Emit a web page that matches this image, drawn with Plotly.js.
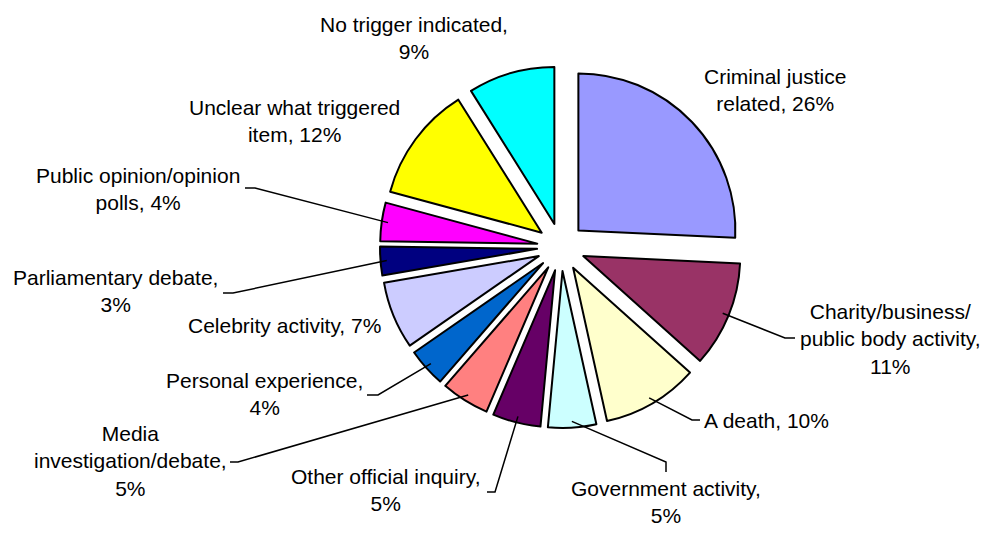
<!DOCTYPE html>
<html><head><meta charset="utf-8">
<script src="https://cdn.plot.ly/plotly-3.0.1.min.js"></script>
<style>html,body{margin:0;padding:0;background:#fff}</style>
</head><body><div id="chart" style="width:984px;height:533px"></div>
<script>
// ---- data (clockwise from 12 o'clock) ----
const categories = [
  "Criminal justice\nrelated",
  "Charity/business/\npublic body activity",
  "A death",
  "Government activity",
  "Other official inquiry",
  "Media\ninvestigation/debate",
  "Personal experience",
  "Celebrity activity",
  "Parliamentary debate",
  "Public opinion/opinion\npolls",
  "Unclear what triggered\nitem",
  "No trigger indicated"
];
const percentValues = [26, 11, 10, 5, 5, 5, 4, 7, 3, 4, 12, 9];
const sliceColors = ["#9999FF","#993366","#FFFFCC","#CCFFFF","#660066","#FF8080","#0066CC","#CCCCFF","#000080","#FF00FF","#FFFF00","#00FFFF"];
// whether the percentage goes on its own line
const valueOnNewLine = [false, true, false, true, true, true, true, false, true, false, false, true];

// ---- layout (pixels) ----
const W = 984, H = 533, CX = 561, CY = 247, R = 157, PULL = 0.153;
const labelPos = [
  {x: 775, y: 90,  xa: "center"},
  {x: 890, y: 339, xa: "center", lead: [[785,338],[795,338]]},
  {x: 702, y: 420, xa: "left",   lead: [[692,420],[700,420]]},
  {x: 666, y: 502, xa: "center", lead: [[666,462],[666,472]]},
  {x: 385, y: 490, xa: "center", lead: [[495,492],[487,492]]},
  {x: 130, y: 461, xa: "center", lead: [[238,462],[230,462]]},
  {x: 264, y: 394, xa: "center", lead: [[378,395],[367,395]]},
  {x: 284, y: 325, xa: "center"},
  {x: 115, y: 291, xa: "center", lead: [[233,293],[223,293]]},
  {x: 138, y: 189, xa: "center", lead: [[255,188],[245,188]]},
  {x: 294, y: 121, xa: "center"},
  {x: 414, y: 38,  xa: "center"}
];

const px = x => x / W, py = y => 1 - y / H;
const half = R * (1 + PULL);
const total = percentValues.reduce((a, b) => a + b, 0);

const annotations = [], shapes = [];
let cum = 0;
percentValues.forEach((v, i) => {
  const mid = (cum + v / 2) / total * 2 * Math.PI;
  cum += v;
  const name = categories[i].replace(/\n/g, "<br>");
  const text = name + "," + (valueOnNewLine[i] ? "<br>" : " ") + v + "%";
  const p = labelPos[i];
  annotations.push({
    xref: "paper", yref: "paper", x: px(p.x), y: py(p.y),
    xanchor: p.xa, yanchor: "middle", align: "center", showarrow: false,
    text: text, font: {family: "Liberation Sans, Arial, sans-serif", size: 21, color: "#000"}
  });
  if (p.lead) {
    const t = R * (PULL + 0.96);
    const ax = CX + t * Math.sin(mid), ay = CY - t * Math.cos(mid);
    const pts = [[ax, ay]].concat(p.lead);
    const d = pts.map((q, k) => (k ? "L" : "M") + px(q[0]).toFixed(5) + "," + py(q[1]).toFixed(5)).join(" ");
    shapes.push({type: "path", xref: "paper", yref: "paper", path: d, line: {color: "#000", width: 1.5}});
  }
});

const trace = {
  type: "pie",
  labels: categories.map(c => c.replace(/\n/g, " ")),
  values: percentValues,
  sort: false,
  direction: "clockwise",
  rotation: 0,
  pull: percentValues.map(() => PULL),
  marker: {colors: sliceColors, line: {color: "#000", width: 2}},
  textinfo: "none",
  hoverinfo: "none",
  showlegend: false,
  domain: {x: [px(CX - half), px(CX + half)], y: [py(CY + half), py(CY - half)]}
};

Plotly.newPlot("chart", [trace], {
  width: W, height: H,
  margin: {l: 0, r: 0, t: 0, b: 0},
  paper_bgcolor: "#fff", plot_bgcolor: "#fff",
  showlegend: false,
  annotations: annotations,
  shapes: shapes
}, {displayModeBar: false, staticPlot: true});
</script>
</body></html>
